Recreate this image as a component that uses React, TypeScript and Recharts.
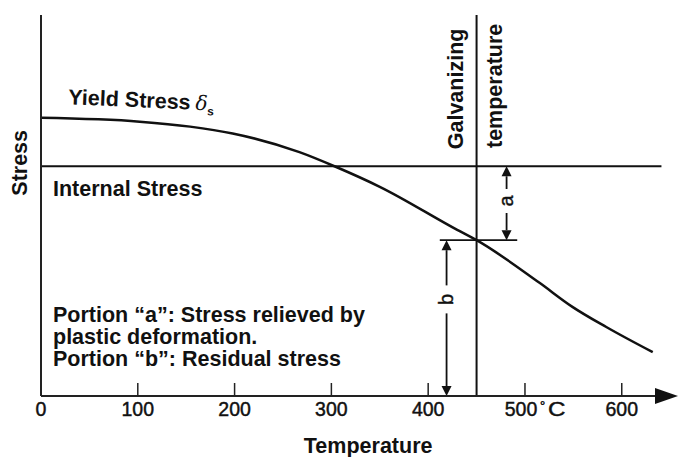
import React from 'react';
import { LineChart, Line, XAxis, YAxis, ReferenceLine, ReferenceDot } from 'recharts';

// ---- data ----
const temperatures = [0, 102, 154, 198, 267, 305, 350, 430, 450, 515, 549, 584, 632];
const yieldStress = [73.0, 72.0, 70.7, 68.9, 64.0, 60.1, 54.9, 43.6, 40.9, 29.7, 23.4, 18.1, 11.5];
const xTicks = [0, 100, 200, 300, 400, 500, 600];
const internalStress = 60.3;
const internalStressEnd = 641;
const galvanizingTemp = 450;
const residualStress = 40.9;
const residualLineStart = 412;
const residualLineEnd = 492;
const portionATemp = 481;
const portionBTemp = 419;
const xMax = 655;
const yMax = 100;

const portionLines = [
  'Portion \u201ca\u201d: Stress relieved by',
  'plastic deformation.',
  'Portion \u201cb\u201d: Residual stress',
];
const portionLineY = [19.4, 13.6, 7.9];

const data = temperatures.map((t, i) => ({ t, s: yieldStress[i] }));

const FONT = '"Liberation Sans", Arial, Helvetica, sans-serif';
const INK = '#111';
const FS = 21.5;

const TempTick = (props: any) => {
  const { x, y, payload } = props;
  const v = payload.value;
  const common = { fontFamily: FONT, fill: INK, stroke: INK, strokeWidth: 0.45 };
  return (
    <g>
      {v !== 0 && <line x1={x} y1={y} x2={x} y2={y - 13} stroke="#222" strokeWidth={1.5} />}
      {v === 500 ? (
        <g>
          <text x={x - 4} y={y + 20} textAnchor="middle" fontSize={19.5} {...common}>500</text>
          <text x={x + 15} y={y + 14} fontSize={13} {...common}>°</text>
          <text x={x + 23} y={y + 20} fontSize={22} {...common}
            transform={`translate(${x + 23} ${y + 20}) scale(1.1 0.88) translate(${-(x + 23)} ${-(y + 20)})`}>C</text>
        </g>
      ) : (
        <text x={x} y={y + 20} textAnchor="middle" fontSize={19.5} {...common}>{v}</text>
      )}
    </g>
  );
};

const makeArrow = (label: string, labelFrac: number, gapHalf: number) => (p: any) => {
  const x = p.x1;
  const top = Math.min(p.y1, p.y2);
  const bottom = Math.max(p.y1, p.y2);
  const head = 10;
  const hw = 5;
  const ly = top + (bottom - top) * labelFrac;
  return (
    <g>
      <polygon points={`${x},${top} ${x - hw},${top + head} ${x + hw},${top + head}`} fill={INK} />
      <polygon points={`${x},${bottom} ${x - hw},${bottom - head} ${x + hw},${bottom - head}`} fill={INK} />
      <line x1={x} y1={top + head} x2={x} y2={ly - gapHalf} stroke={INK} strokeWidth={1.8} />
      <line x1={x} y1={ly + gapHalf} x2={x} y2={bottom - head} stroke={INK} strokeWidth={1.8} />
      <text x={x} y={ly} dy="0.3em" textAnchor="middle" fontFamily={FONT} fontSize={20} fill={INK} stroke={INK} strokeWidth={0.4}
        transform={`rotate(-90 ${x} ${ly})`}>{label}</text>
    </g>
  );
};

const textAt = (render: (cx: number, cy: number) => React.ReactNode) => (p: any) => <g>{render(p.cx, p.cy)}</g>;

export default function App() {
  return (
    <div style={{ position: 'absolute', left: 0, top: 0, background: '#fff' }}>
      <LineChart width={679} height={457} data={data} margin={{ top: 15, right: 4, bottom: 31, left: 40 }}>
        <XAxis
          dataKey="t"
          type="number"
          domain={[0, xMax]}
          ticks={xTicks}
          interval={0}
          tickLine={false}
          tickSize={0}
          tickMargin={0}
          height={30}
          axisLine={{ stroke: '#222', strokeWidth: 2 }}
          tick={<TempTick />}
          allowDataOverflow
        />
        <YAxis
          type="number"
          domain={[0, yMax]}
          width={1}
          tick={false}
          tickLine={false}
          axisLine={{ stroke: '#222', strokeWidth: 2 }}
          allowDataOverflow
        />
        <ReferenceLine segment={[{ x: 0, y: internalStress }, { x: internalStressEnd, y: internalStress }]} stroke={INK} strokeWidth={1.8} ifOverflow="visible" />
        <ReferenceLine x={galvanizingTemp} stroke={INK} strokeWidth={2} />
        <ReferenceLine segment={[{ x: residualLineStart, y: residualStress }, { x: residualLineEnd, y: residualStress }]} stroke={INK} strokeWidth={1.8} />
        <ReferenceLine segment={[{ x: portionATemp, y: internalStress }, { x: portionATemp, y: residualStress }]} shape={makeArrow('a', 0.47, 12)} />
        <ReferenceLine segment={[{ x: portionBTemp, y: residualStress }, { x: portionBTemp, y: 0 }]} shape={makeArrow('b', 0.38, 14)} ifOverflow="visible" />
        <Line dataKey="s" type="monotone" stroke={INK} strokeWidth={2.5} dot={false} isAnimationActive={false} />
        {/* x-axis arrow head */}
        <ReferenceDot x={xMax} y={0} r={0} ifOverflow="visible"
          shape={textAt((cx, cy) => <polygon points={`${cx + 3},${cy} ${cx - 20},${cy - 8} ${cx - 20},${cy + 8}`} fill={INK} />)} />
        {/* labels */}
        <ReferenceDot x={28} y={76.6} r={0} ifOverflow="visible"
          shape={textAt((cx, cy) => (
            <text x={cx} y={cy} fontFamily={FONT} fontWeight="bold" fontSize={FS} fill={INK} transform={`rotate(2.5 ${cx} ${cy})`}>
              Yield Stress
              <tspan fontFamily='"DejaVu Serif", serif' fontStyle="italic" fontWeight="normal" fontSize={20} dx={5}>δ</tspan>
              <tspan fontSize={12} dy={5}>s</tspan>
            </text>
          ))} />
        <ReferenceDot x={12.4} y={52.5} r={0} ifOverflow="visible"
          shape={textAt((cx, cy) => <text x={cx} y={cy} fontFamily={FONT} fontWeight="bold" fontSize={FS} fill={INK}>Internal Stress</text>)} />
        {portionLines.map((line, i) => (
          <ReferenceDot key={line} x={12.4} y={portionLineY[i]} r={0} ifOverflow="visible"
            shape={textAt((cx, cy) => <text x={cx} y={cy} fontFamily={FONT} fontWeight="bold" fontSize={FS} fill={INK}>{line}</text>)} />
        ))}
        <ReferenceDot x={galvanizingTemp} y={80.6} r={0} ifOverflow="visible"
          shape={textAt((cx, cy) => (
            <text x={cx - 14} y={cy} textAnchor="middle" fontFamily={FONT} fontWeight="bold" fontSize={FS} fill={INK}
              transform={`rotate(-90 ${cx - 14} ${cy})`}>Galvanizing</text>
          ))} />
        <ReferenceDot x={galvanizingTemp} y={81.4} r={0} ifOverflow="visible"
          shape={textAt((cx, cy) => (
            <text x={cx + 25} y={cy} textAnchor="middle" fontFamily={FONT} fontWeight="bold" fontSize={FS} fill={INK}
              transform={`rotate(-90 ${cx + 25} ${cy})`}>temperature</text>
          ))} />
        <ReferenceDot x={0} y={61.2} r={0} ifOverflow="visible"
          shape={textAt((cx, cy) => (
            <text x={cx - 14} y={cy} textAnchor="middle" fontFamily={FONT} fontWeight="bold" fontSize={FS} fill={INK}
              transform={`rotate(-90 ${cx - 14} ${cy})`}>Stress</text>
          ))} />
        <ReferenceDot x={338} y={0} r={0} ifOverflow="visible"
          shape={textAt((cx, cy) => (
            <text x={cx} y={cy + 57} textAnchor="middle" fontFamily={FONT} fontWeight="bold" fontSize={FS} fill={INK}>Temperature</text>
          ))} />
      </LineChart>
    </div>
  );
}
